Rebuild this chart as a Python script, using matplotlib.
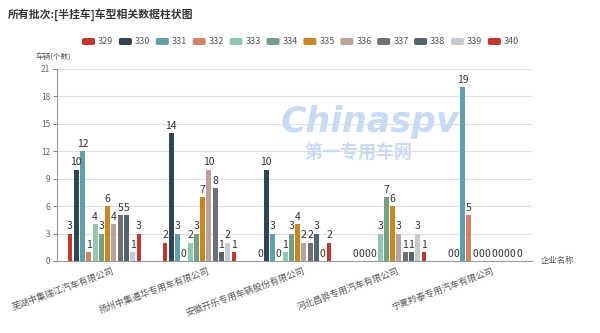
import numpy as np
import matplotlib.pyplot as plt
import matplotlib.transforms as mtrans
from matplotlib.patches import FancyBboxPatch

plt.rcParams['font.family'] = ['Noto Sans CJK SC', 'DejaVu Sans']

companies = ['芜湖中集瑞江汽车有限公司', '扬州中集通华专用车有限公司', '安徽开乐专用车辆股份有限公司',
             '河北昌骅专用汽车有限公司', '宁夏羚泰专用汽车有限公司']
series = ['329', '330', '331', '332', '333', '334', '335', '336', '337', '338', '339', '340']
values = [
    [3, 2, 0, 0, 0],
    [10, 14, 10, 0, 0],
    [12, 3, 3, 0, 19],
    [1, 0, 0, 0, 5],
    [4, 2, 1, 3, 0],
    [3, 3, 3, 7, 0],
    [6, 7, 4, 6, 0],
    [4, 10, 2, 3, 0],
    [5, 8, 2, 1, 0],
    [5, 1, 3, 1, 0],
    [1, 2, 0, 3, 0],
    [3, 1, 2, 1, 0],
]
colors = ['#c23531', '#2f4554', '#61a0a8', '#d48265', '#91c7ae', '#749f83',
          '#ca8622', '#bda29a', '#6e7074', '#546570', '#c4ccd3', '#c23531']

fig = plt.figure(figsize=(6, 3.33), dpi=100)

# watermark (behind the chart)
fig.text(370 / 600, 1 - 122 / 333, 'Chinaspv', fontsize=25, fontweight='bold',
         style='italic', color='#c9daf4', ha='center', va='center',
         family='DejaVu Sans', zorder=0)
fig.text(358 / 600, 1 - 153 / 333, '第一专用车网', fontsize=13, fontweight='bold',
         style='italic', color='#c9daf4', ha='center', va='center', zorder=0)

ax = fig.add_axes([57 / 600, 1 - 261 / 333, 475 / 600, 192 / 333])
ax.patch.set_alpha(0)

x = np.arange(len(companies))
step = 0.066
width = 0.052
for i, (name, vals) in enumerate(zip(series, values)):
    pos = x + (i - 5.5) * step
    ax.bar(pos, vals, width, color=colors[i], zorder=3)
    for p, v in zip(pos, vals):
        ax.text(p, v + 0.25, str(v), ha='center', va='bottom', fontsize=7.5,
                color='#333333', zorder=4)

ax.set_xlim(-0.5, len(companies) - 0.5)
ax.set_ylim(0, 21)
ax.set_yticks(range(0, 22, 3))
ax.yaxis.grid(True, color='#e0e0e0', linewidth=0.8, zorder=0)
for s in ['top', 'right']:
    ax.spines[s].set_visible(False)
ax.spines['left'].set_color('#999999')
ax.spines['bottom'].set_color('#999999')
ax.tick_params(axis='y', labelsize=6, colors='#666666', length=3, width=0.6, pad=2)
ax.tick_params(axis='x', length=0, pad=4)
ax.set_xticks(x)
ax.set_xticklabels(companies, rotation=20, ha='right', rotation_mode='anchor',
                   fontsize=6.5, color='#555555')
offset = mtrans.ScaledTranslation(8 / 100, 0, fig.dpi_scale_trans)
for lab in ax.get_xticklabels():
    lab.set_transform(lab.get_transform() + offset)

fig.text(8 / 600, 1 - 15 / 333, '所有批次:[半挂车]车型相关数据柱状图', fontsize=7.8,
         fontweight='bold', color='#333333', va='center')
fig.text(35 / 600, 1 - 57 / 333, '车辆(个数)', fontsize=5.5, color='#555555', va='center')
fig.text(541 / 600, 1 - 261 / 333, '企业名称', fontsize=6, color='#555555', va='center')

# legend
lx = 82
item_w = 36.9
for i, name in enumerate(series):
    px = lx + i * item_w
    patch = FancyBboxPatch((px / 600, 1 - 45 / 333), 13 / 600, 7 / 333,
                           boxstyle='round,pad=0,rounding_size=0.004',
                           transform=fig.transFigure, color=colors[i], linewidth=0)
    fig.patches.append(patch)
    fig.text((px + 16) / 600, 1 - 41.5 / 333, name, fontsize=6.5, color='#555555', va='center')

fig.savefig('out.png', dpi=100)
